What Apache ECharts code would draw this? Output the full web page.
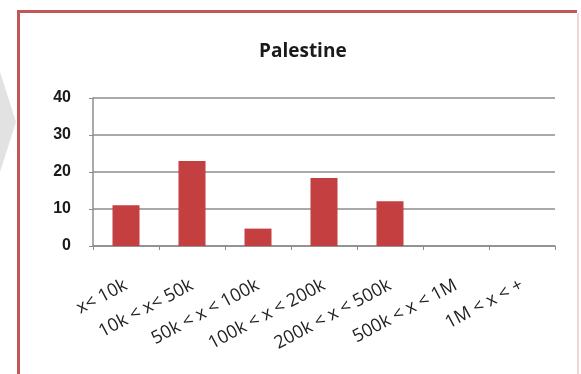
<!DOCTYPE html>
<html>
<head>
<meta charset="utf-8">
<style>
  html, body { margin: 0; padding: 0; background: #ffffff; }
  #chart { width: 581px; height: 374px; }
</style>
<script src="https://cdn.jsdelivr.net/npm/echarts@6/dist/echarts.min.js"></script>
</head>
<body>
<div id="chart"></div>
<script>
// Population size classes and the count of localities in each
const categories = ['x< 10k', '10k < x< 50k', '50k < x < 100k', '100k < x < 200k', '200k < x < 500k', '500k < x < 1M', '1M < x < +'];
const counts = [11, 23, 4.7, 18.4, 12.1, 0, 0];
const yTicks = [0, 10, 20, 30, 40];

const chart = echarts.init(document.getElementById('chart'), null, { renderer: 'canvas' });

chart.setOption({
  animation: false,
  backgroundColor: '#ffffff',
  title: {
    text: 'Palestine',
    left: 254,
    top: 37,
    textStyle: { fontFamily: 'Open Sans', fontWeight: 'bold', fontSize: 19, color: '#1a1a1a' }
  },
  graphic: [
    {
      type: 'polygon',
      shape: { points: [[0, 72], [16, 122], [0, 172]] },
      style: { fill: '#e2e2e2' },
      silent: true
    },
    {
      // frame: strong left and top edges, faint right edge
      type: 'polyline',
      shape: { points: [[18.5, 380], [18.5, 11.5], [577, 11.5]] },
      style: { stroke: '#c05858', lineWidth: 3, fill: 'none' },
      silent: true
    },
    {
      type: 'line',
      shape: { x1: 578, y1: 13, x2: 578, y2: 380 },
      style: { stroke: '#f4d4d4', lineWidth: 2 },
      silent: true
    }
  ],
  grid: { left: 93, right: 26, top: 98, bottom: 128 },
  xAxis: {
    type: 'category',
    data: categories,
    boundaryGap: true,
    axisLine: { show: true, lineStyle: { color: '#8c8c8c', width: 1.5 } },
    axisTick: { show: true, alignWithLabel: false, length: 4, lineStyle: { color: '#8c8c8c' } },
    axisLabel: {
      interval: 0,
      rotate: 28,
      margin: 38,
      fontFamily: 'Open Sans',
      fontSize: 18,
      color: '#222222'
    }
  },
  yAxis: {
    type: 'value',
    min: yTicks[0],
    max: yTicks[yTicks.length - 1],
    interval: 10,
    axisLine: { show: true, lineStyle: { color: '#8c8c8c', width: 1.5 } },
    axisTick: { show: true, length: 4, lineStyle: { color: '#8c8c8c' } },
    splitLine: { show: true, lineStyle: { color: '#8c8c8c', width: 1.5 } },
    axisLabel: {
      margin: 22,
      fontFamily: 'Liberation Sans',
      fontWeight: 'bold',
      fontSize: 16,
      color: '#1a1a1a'
    }
  },
  series: [
    {
      type: 'bar',
      data: counts,
      barWidth: 27,
      itemStyle: { color: '#c43f3f', borderWidth: 0 }
    }
  ]
});
</script>
</body>
</html>
